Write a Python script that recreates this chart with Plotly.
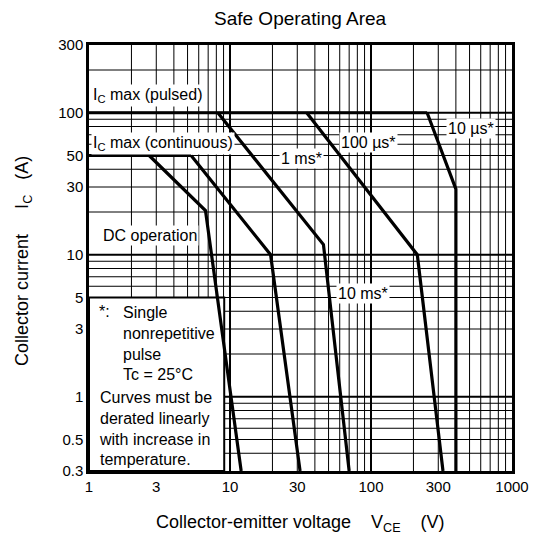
import math
import plotly.graph_objects as go

# ---------------- data ----------------
pulsed_v = [1, 250]
pulsed_i = [100, 100]
cont_v = [1, 5.3]
cont_i = [50, 50]
dc_v = [2.67, 6.7, 12.0]
dc_i = [50, 20.5, 0.3]
ms10_v = [5.3, 19.4, 31.4]
ms10_i = [50, 10, 0.3]
ms1_v = [8.2, 46, 70]
ms1_i = [100, 11.8, 0.3]
us100_v = [35, 213, 324]
us100_i = [100, 10, 0.3]
us10_v = [250, 400, 400]
us10_i = [100, 29, 0.3]

x_tick_vals = [1, 3, 10, 30, 100, 300, 1000]
x_tick_text = ["1", "3", "10", "30", "100", "300", "1000"]
y_tick_vals = [0.3, 0.5, 1, 3, 5, 10, 30, 50, 100, 300]
y_tick_text = ["0.3", "0.5", "1", "3", "5", "10", "30", "50", "100", "300"]

x_minor_grid = [2, 3, 4, 5, 6, 7, 8, 9, 20, 30, 40, 50, 60, 70, 80, 90,
                200, 300, 400, 500, 600, 700, 800, 900]
x_major_grid = [10, 100]
y_minor_grid = [0.4, 0.5, 0.6, 0.7, 0.8, 0.9, 2, 3, 4, 5, 6, 7, 8, 9,
                20, 30, 40, 50, 60, 70, 80, 90, 200]
y_major_grid = [1, 10, 100]

note_box_v = [1, 9.1]
note_box_i = [0.3, 5]

# ---------------- figure ----------------
FONT = "Liberation Sans, Arial, sans-serif"
OFF = 8                      # page body margin of the browser
W, H = 541 - OFF, 540 - OFF
L, R, T, B = 89 - OFF, 23, 45 - OFF, 69
PW, PH = W - L - R, H - T - B
PLOT_LEFT = 89               # window pixels
PLOT_BOTTOM = 471


def px(xp):
    return (xp - PLOT_LEFT) / PW


def py(yp):
    return (PLOT_BOTTOM - yp) / PH


fig = go.Figure()
curve_style = dict(color="black", width=3.2)
for v, i in [(pulsed_v, pulsed_i), (cont_v, cont_i), (dc_v, dc_i),
             (ms10_v, ms10_i), (ms1_v, ms1_i), (us100_v, us100_i),
             (us10_v, us10_i)]:
    fig.add_trace(go.Scatter(x=v, y=i, mode="lines", line=curve_style,
                             showlegend=False, hoverinfo="skip"))

shapes = []
for v in x_minor_grid:
    shapes.append(dict(type="line", xref="x", yref="paper", x0=v, x1=v, y0=0, y1=1,
                       line=dict(color="black", width=1), layer="below"))
for v in x_major_grid:
    shapes.append(dict(type="line", xref="x", yref="paper", x0=v, x1=v, y0=0, y1=1,
                       line=dict(color="black", width=2), layer="below"))
for v in y_minor_grid:
    shapes.append(dict(type="line", xref="paper", yref="y", x0=0, x1=1, y0=v, y1=v,
                       line=dict(color="black", width=1), layer="below"))
for v in y_major_grid:
    shapes.append(dict(type="line", xref="paper", yref="y", x0=0, x1=1, y0=v, y1=v,
                       line=dict(color="black", width=2), layer="below"))
shapes.append(dict(type="rect", xref="x", yref="y",
                   x0=note_box_v[0], x1=note_box_v[1], y0=note_box_i[0], y1=note_box_i[1],
                   fillcolor="white", line=dict(color="black", width=2), layer="below"))

ann = []
lab_font = dict(family=FONT, size=16, color="black")


def label(text, xp, yp, anchor="center", bg="white", align="left"):
    ann.append(dict(text=text, x=px(xp), y=py(yp), xref="paper", yref="paper",
                    xanchor=anchor, yanchor="middle", showarrow=False,
                    font=lab_font, bgcolor=bg, borderpad=1, align=align))


label("I<sub>C</sub> max (pulsed)", 91, 95, anchor="left")
label("I<sub>C</sub> max (continuous)", 91, 143, anchor="left")
label("1 ms*", 305, 158)
label("100 µs*", 372, 142)
label("10 µs*", 476, 128)
label("10 ms*", 367, 293)
label("DC operation", 151, 235)
label("*:", 97, 311, anchor="left", bg=None)
label("Single<br>nonrepetitive<br>pulse<br>Tc = 25°C", 121, 343, anchor="left", bg=None)
label("Curves must be<br>derated linearly<br>with increase in<br>temperature.", 97, 428,
      anchor="left", bg=None)

nb = "\u00a0"
ann.append(dict(text="Collector-emitter voltage" + nb * 4 + "V<sub>CE</sub>" + nb * 4 + "(V)",
                x=px(303), y=py(523), xref="paper", yref="paper", showarrow=False,
                xanchor="center", yanchor="middle",
                font=dict(family=FONT, size=18, color="black")))
ann.append(dict(text="Collector current" + nb * 5 + "I<sub>C</sub>" + nb * 3 + "(A)",
                x=px(22), y=py(261), xref="paper", yref="paper", showarrow=False,
                xanchor="center", yanchor="middle", textangle=-90,
                font=dict(family=FONT, size=18, color="black")))
ann.append(dict(text="Safe Operating Area", x=px(303), y=py(18), xref="paper", yref="paper",
                showarrow=False, xanchor="center", yanchor="middle",
                font=dict(family=FONT, size=19, color="black")))

axis_common = dict(type="log", showgrid=False, zeroline=False, showline=True, mirror=True,
                   linecolor="black", linewidth=2.5, ticks="",
                   tickfont=dict(family=FONT, size=15, color="black"))

fig.update_layout(
    width=W, height=H,
    margin=dict(l=L, r=R, t=T, b=B),
    paper_bgcolor="white", plot_bgcolor="white",
    xaxis=dict(range=[0, 3], tickvals=x_tick_vals, ticktext=x_tick_text, **axis_common),
    yaxis=dict(range=[math.log10(0.3), math.log10(300)], tickvals=y_tick_vals,
               ticktext=y_tick_text, **axis_common),
    shapes=shapes, annotations=ann, showlegend=False,
)

fig.write_html("out.html")
